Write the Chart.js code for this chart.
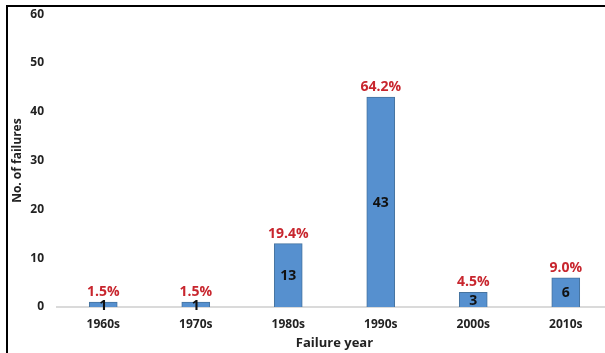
<!DOCTYPE html>
<html lang="en">
<head>
    <meta charset="UTF-8">
    <title>Failures by decade</title>
    <script src="https://cdn.jsdelivr.net/npm/chart.js"></script>
    <style>
        html, body { margin: 0; padding: 0; overflow: hidden; background: #fff; }
        #wrap { position: absolute; left: 0; top: 0; width: 612px; height: 353px; overflow: hidden; }
        #frame { position: absolute; left: 6px; top: 5px; width: 620px; height: 360px;
                 border-left: 2px solid #000; border-top: 2px solid #000; }
        canvas { position: absolute; left: 0; top: -6px; }
    </style>
</head>
<body>
    <div id="wrap">
        <canvas id="failChart" width="612" height="359"></canvas>
        <div id="frame"></div>
    </div>

    <script>
        const decades = ["1960s", "1970s", "1980s", "1990s", "2000s", "2010s"];
        const failures = [1, 1, 13, 43, 3, 6];
        const yTicks = [0, 10, 20, 30, 40, 50, 60];

        const total = failures.reduce((a, b) => a + b, 0);

        // count inside each bar, share of total above it
        const barLabels = {
            id: "barLabels",
            afterDatasetsDraw(chart) {
                const ctx = chart.ctx;
                const meta = chart.getDatasetMeta(0);
                ctx.save();
                ctx.textAlign = "center";
                meta.data.forEach((bar, i) => {
                    const mid = (bar.y + bar.base) / 2;
                    ctx.font = "bold 14px 'Open Sans'";
                    ctx.fillStyle = "#111";
                    ctx.textBaseline = "middle";
                    ctx.fillText(String(failures[i]), bar.x, mid + 1);

                    const pct = (failures[i] / total * 100).toFixed(1) + "%";
                    ctx.font = "bold 14px 'Open Sans'";
                    ctx.fillStyle = "#C8262E";
                    ctx.textBaseline = "alphabetic";
                    ctx.fillText(pct, bar.x, bar.y - 6);
                });
                ctx.restore();
            }
        };

        new Chart(document.getElementById("failChart"), {
            type: "bar",
            data: {
                labels: decades,
                datasets: [{
                    data: failures,
                    backgroundColor: "#5690CF",
                    borderColor: "#46739F",
                    borderWidth: 1,
                    barThickness: 28
                }]
            },
            options: {
                responsive: false,
                animation: false,
                layout: { padding: { left: 10, top: 0, right: 0, bottom: 2 } },
                plugins: { legend: { display: false }, tooltip: { enabled: false } },
                scales: {
                    x: {
                        grid: { display: false, drawTicks: false },
                        border: { color: "#DADADA", width: 2 },
                        ticks: { color: "#222", padding: 10, font: { family: "Open Sans", weight: "bold", size: 12 } },
                        title: {
                            display: true, text: "Failure year", color: "#222",
                            font: { family: "Open Sans", weight: "bold", size: 13 }, padding: { top: 1, bottom: 0 }
                        },
                        afterFit(scale) { scale.height = 44; }
                    },
                    y: {
                        min: 0, max: 60,
                        afterBuildTicks(scale) { scale.ticks = yTicks.map(v => ({ value: v })); },
                        grid: { display: false, drawTicks: false },
                        border: { display: false },
                        ticks: { color: "#222", padding: 13, font: { family: "Open Sans", weight: "bold", size: 12 } },
                        title: {
                            display: true, text: "No. of failures", color: "#222",
                            font: { family: "Open Sans", weight: "bold", size: 12 }, padding: { top: 0, bottom: 0 }
                        },
                        afterFit(scale) { scale.width = 47; }
                    }
                }
            },
            plugins: [barLabels]
        });
    </script>
</body>
</html>
